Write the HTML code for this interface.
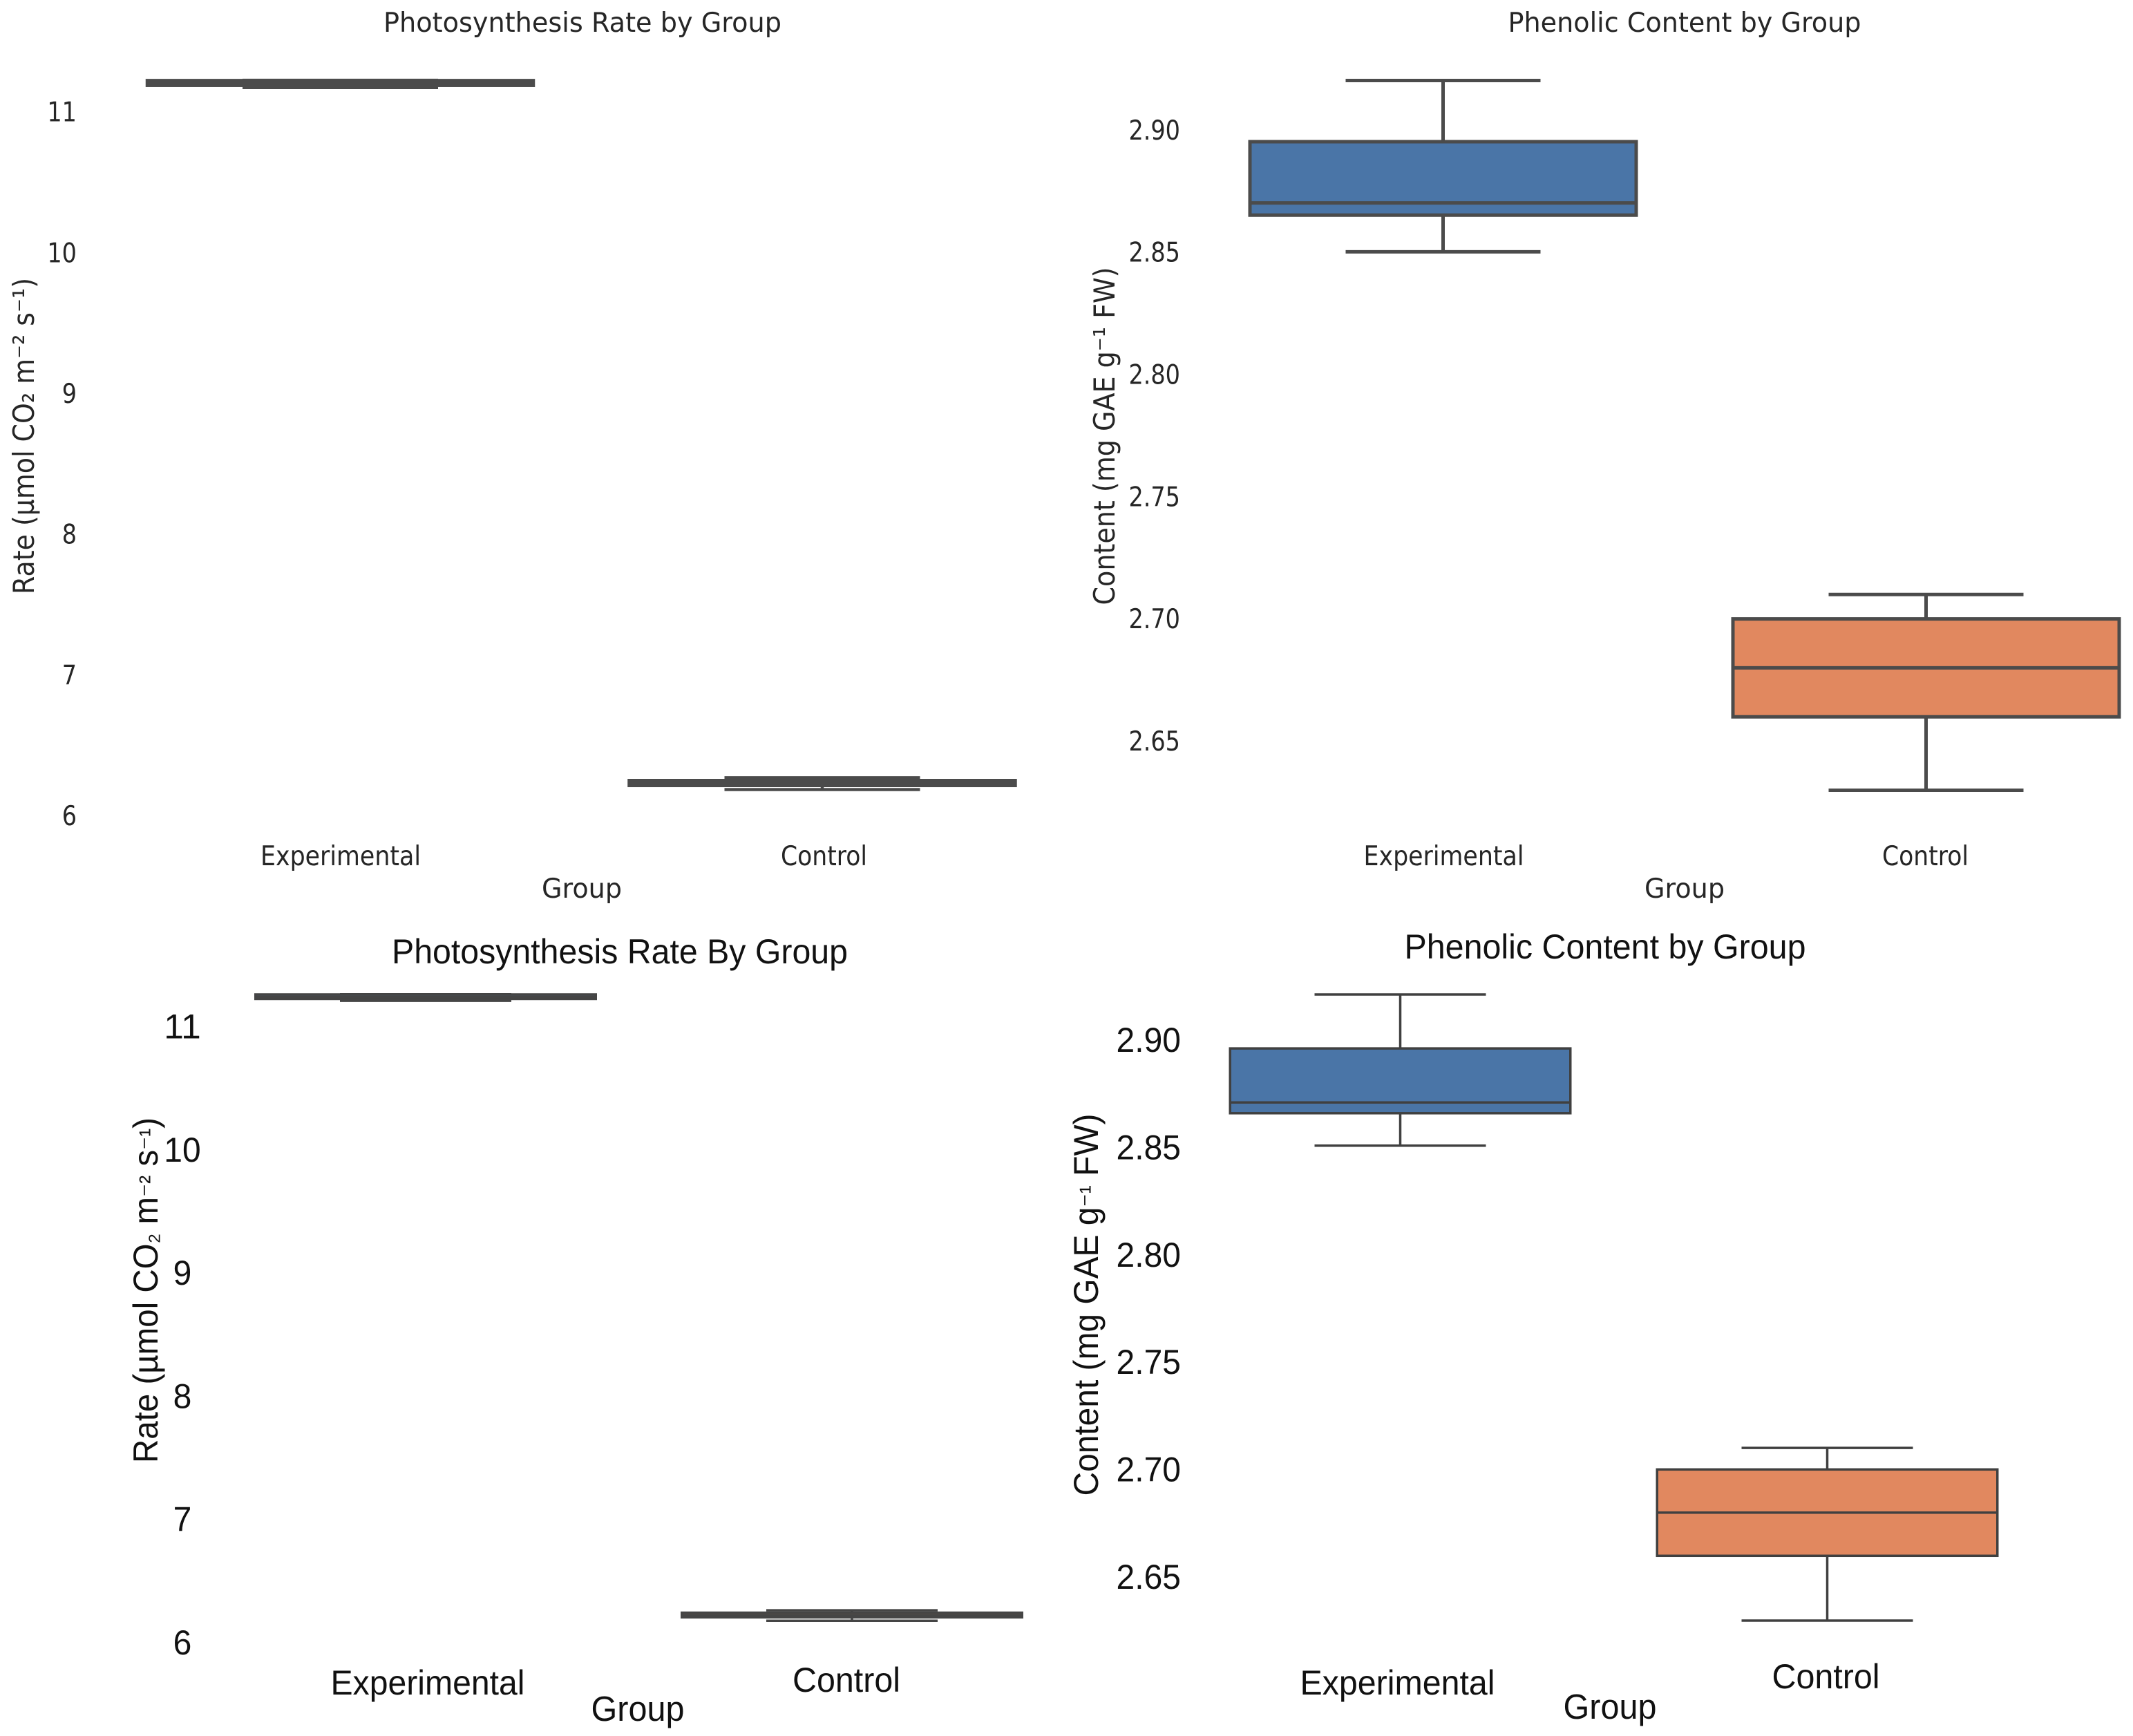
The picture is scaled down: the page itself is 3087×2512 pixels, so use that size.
<!DOCTYPE html>
<html lang="en">
<head>
<meta charset="utf-8">
<title>Photosynthesis Rate and Phenolic Content by Group</title>
<style>
html,body{margin:0;padding:0;background:#fff;}
svg{display:block;}
.dv{font-family:"DejaVu Sans",sans-serif;fill:#262626;}
.ls{font-family:"Liberation Sans",sans-serif;fill:#111;}
</style>
</head>
<body>
<svg id="figure" xmlns="http://www.w3.org/2000/svg" width="3087" height="2512" viewBox="0 0 3087 2512">
<rect x="0" y="0" width="3087" height="2512" fill="#ffffff"/>

<g id="panel-a">
<text class="dv" x="843" y="46" font-size="39" text-anchor="middle" textLength="576" lengthAdjust="spacingAndGlyphs">Photosynthesis Rate by Group</text>
<text class="dv" transform="translate(49,631) rotate(-90)" font-size="42" text-anchor="middle" textLength="458" lengthAdjust="spacingAndGlyphs">Rate (µmol CO₂ m⁻² s⁻¹)</text>
<text class="dv" x="842" y="1299" font-size="39" text-anchor="middle" textLength="116" lengthAdjust="spacingAndGlyphs">Group</text>
</g>

<g id="panel-b">
<text class="dv" x="2438" y="46" font-size="39" text-anchor="middle" textLength="511" lengthAdjust="spacingAndGlyphs">Phenolic Content by Group</text>
<text class="dv" transform="translate(1613,631) rotate(-90)" font-size="42" text-anchor="middle" textLength="489" lengthAdjust="spacingAndGlyphs">Content (mg GAE g⁻¹ FW)</text>
<text class="dv" x="2438" y="1299" font-size="39" text-anchor="middle" textLength="116" lengthAdjust="spacingAndGlyphs">Group</text>
</g>

<g id="panel-c">
<text class="ls" x="897" y="1394" font-size="50" text-anchor="middle" textLength="660" lengthAdjust="spacingAndGlyphs">Photosynthesis Rate By Group</text>
<text class="ls" transform="translate(228,1867) rotate(-90)" font-size="50" text-anchor="middle" textLength="500" lengthAdjust="spacingAndGlyphs">Rate (µmol CO<tspan font-size="40">₂</tspan> m<tspan font-size="38">⁻²</tspan> s<tspan font-size="38">⁻¹</tspan>)</text>
<text class="ls" x="923" y="2490" font-size="51" text-anchor="middle" textLength="135" lengthAdjust="spacingAndGlyphs">Group</text>
</g>

<g id="panel-d">
<text class="ls" x="2323" y="1387" font-size="50" text-anchor="middle" textLength="581" lengthAdjust="spacingAndGlyphs">Phenolic Content by Group</text>
<text class="ls" transform="translate(1589,1888) rotate(-90)" font-size="50" text-anchor="middle" textLength="553" lengthAdjust="spacingAndGlyphs">Content (mg GAE g<tspan font-size="38">⁻¹</tspan> FW)</text>
<text class="ls" x="2330" y="2487" font-size="51" text-anchor="middle" textLength="135" lengthAdjust="spacingAndGlyphs">Group</text>
</g>
</svg>

<script>
// Chart data: [lower whisker, Q1, median, Q3, upper whisker]
const categories = ['Experimental', 'Control'];
const rateExperimental = [11.168, 11.183, 11.2, 11.219, 11.22];
const rateControl = [6.184, 6.212, 6.23, 6.249, 6.268];
const contentExperimental = [2.85, 2.865, 2.87, 2.895, 2.92];
const contentControl = [2.63, 2.66, 2.68, 2.70, 2.71];
const rateTicks = [6, 7, 8, 9, 10, 11];
const contentTicks = [2.65, 2.70, 2.75, 2.80, 2.85, 2.90];

const SVGNS = 'http://www.w3.org/2000/svg';
const BLUE = '#4a75a7';
const ORANGE = '#e1885f';

function linear(d0, r0, d1, r1) {
  return function (v) { return r0 + (v - d0) * (r1 - r0) / (d1 - d0); };
}

function drawLine(parent, name, x1, y1, x2, y2, color, sw) {
  const el = document.createElementNS(SVGNS, 'line');
  
  
  el.setAttribute('x1', x1);
  el.setAttribute('y1', y1);
  el.setAttribute('x2', x2);
  el.setAttribute('y2', y2);
  el.setAttribute('stroke', color);
  el.setAttribute('stroke-width', sw);
  parent.appendChild(el);
}

function drawLabel(parent, name, cfg, str, x, y, anchor, len) {
  const el = document.createElementNS(SVGNS, 'text');
  
  
  el.setAttribute('class', cfg.cls);
  el.setAttribute('x', x);
  el.setAttribute('y', y);
  el.setAttribute('font-size', cfg.fontSize);
  el.setAttribute('text-anchor', anchor);
  if (len) {
    el.setAttribute('textLength', len);
    el.setAttribute('lengthAdjust', 'spacingAndGlyphs');
  }
  el.textContent = str;
  parent.appendChild(el);
}

function drawBox(parent, cfg, name, stats, cx, fill) {
  const y = cfg.y;
  const g = document.createElementNS(SVGNS, 'g');
  
  
  parent.appendChild(g);
  const low = stats[0], q1 = stats[1], med = stats[2], q3 = stats[3], high = stats[4];
  drawLine(g, 'upper-whisker', cx, y(q3), cx, y(high), cfg.stroke, cfg.sw);
  drawLine(g, 'lower-whisker', cx, y(q1), cx, y(low), cfg.stroke, cfg.sw);
  drawLine(g, 'upper-cap', cx - cfg.capW / 2, y(high), cx + cfg.capW / 2, y(high), cfg.stroke, cfg.sw);
  drawLine(g, 'lower-cap', cx - cfg.capW / 2, y(low), cx + cfg.capW / 2, y(low), cfg.stroke, cfg.sw);
  const r = document.createElementNS(SVGNS, 'rect');
  
  
  r.setAttribute('x', cx - cfg.boxW / 2);
  r.setAttribute('y', y(q3));
  r.setAttribute('width', cfg.boxW);
  r.setAttribute('height', Math.max(0, y(q1) - y(q3)));
  r.setAttribute('fill', fill);
  r.setAttribute('stroke', cfg.stroke);
  r.setAttribute('stroke-width', cfg.sw);
  g.appendChild(r);
  drawLine(g, 'median-line', cx - cfg.boxW / 2, y(med), cx + cfg.boxW / 2, y(med), cfg.stroke, cfg.sw);
}

function tickWidth(str, digit) {
  let w = 0;
  for (const ch of str) { w += ch === '.' ? digit * 0.5 : digit; }
  return w;
}

function drawPanel(cfg) {
  const parent = document.getElementById(cfg.id);
  const x = function (i) { return cfg.x0 + i * cfg.step; };

  cfg.ticks.forEach(function (t) {
    const str = t.toFixed(cfg.decimals);
    const len = tickWidth(str, cfg.digitW);
    drawLabel(parent, 'y-tick-label', cfg, str, cfg.tickX, cfg.labelY(t) + cfg.tickBase, cfg.tickAnchor, len);
  });

  categories.forEach(function (c, i) {
    drawLabel(parent, 'x-tick-label', cfg, c, x(i) + cfg.catDx[i], cfg.catY[i], 'middle', cfg.catLen[i]);
  });

  drawBox(parent, cfg, 'box-experimental', cfg.series[0], x(0), BLUE);
  drawBox(parent, cfg, 'box-control', cfg.series[1], x(1), ORANGE);
}

drawPanel({
  id: 'panel-a', cls: 'dv', fontSize: 39, stroke: '#4b4b4b', sw: 4.5,
  y: linear(6, 1180, 11, 161), labelY: linear(6, 1180, 11, 161.6),
  x0: 492.5, step: 697.5, boxW: 559, capW: 283,
  ticks: rateTicks, decimals: 0, tickX: 111, tickAnchor: 'end', tickBase: 14, digitW: 21.3,
  catDx: [0.5, 2.5], catY: [1252, 1252], catLen: [232, 125],
  series: [rateExperimental, rateControl]
});

drawPanel({
  id: 'panel-b', cls: 'dv', fontSize: 39, stroke: '#4b4b4b', sw: 5,
  y: linear(2.63, 1143.5, 2.92, 116.5), labelY: linear(2.65, 1072, 2.90, 187.9),
  x0: 2088.5, step: 699, boxW: 559, capW: 282,
  ticks: contentTicks, decimals: 2, tickX: 1708, tickAnchor: 'end', tickBase: 14, digitW: 21.3,
  catDx: [1, -1], catY: [1252, 1252], catLen: [232, 125],
  series: [contentExperimental, contentControl]
});

drawPanel({
  id: 'panel-c', cls: 'ls', fontSize: 50, stroke: '#454545', sw: 3.5,
  y: linear(6, 2378.4, 11, 1478.4), labelY: linear(6, 2376.5, 11, 1485),
  x0: 616, step: 617, boxW: 492.5, capW: 248,
  ticks: rateTicks, decimals: 0, tickX: 264, tickAnchor: 'middle', tickBase: 17.5, digitW: 26.7,
  catDx: [3, -8], catY: [2452, 2448], catLen: [281, 156],
  series: [rateExperimental, rateControl]
});

drawPanel({
  id: 'panel-d', cls: 'ls', fontSize: 50, stroke: '#404040', sw: 3.5,
  y: linear(2.63, 2345, 2.92, 1439), labelY: linear(2.65, 2281.5, 2.90, 1504.5),
  x0: 2026.5, step: 618, boxW: 492.5, capW: 248,
  ticks: contentTicks, decimals: 2, tickX: 1709, tickAnchor: 'end', tickBase: 17.5, digitW: 26.7,
  catDx: [-4, -2], catY: [2452, 2443], catLen: [282, 156],
  series: [contentExperimental, contentControl]
});
</script>
</body>
</html>
